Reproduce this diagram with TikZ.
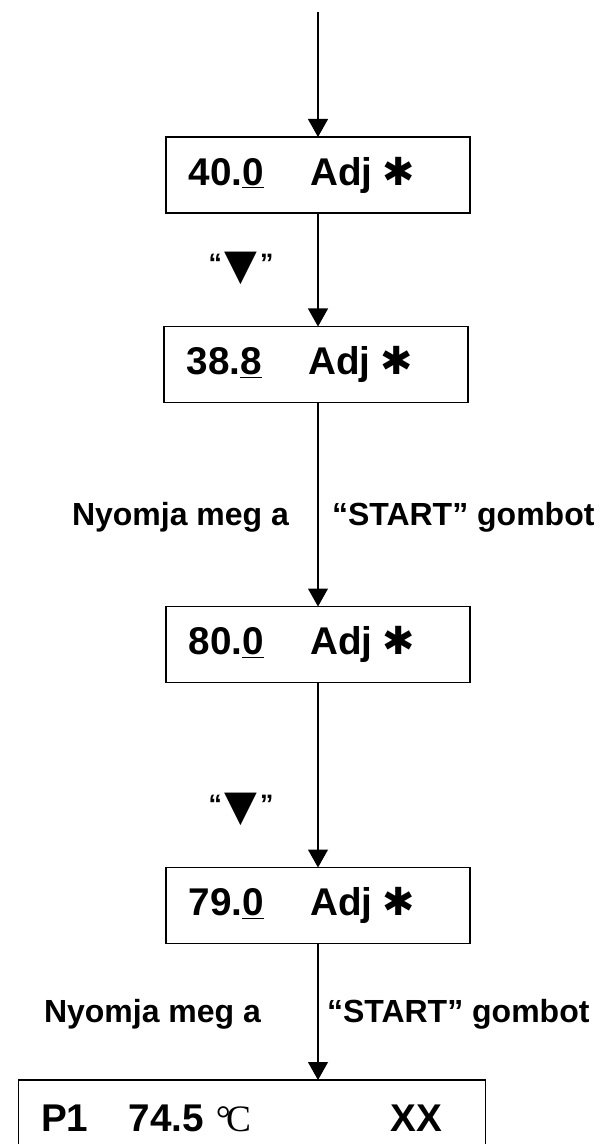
\documentclass[tikz,border=0pt]{standalone}
\usepackage{fontspec}
\setmainfont{Liberation Sans}
\newfontfamily\symfont{DejaVu Sans}
\newfontfamily\degfont{Liberation Serif}
\usetikzlibrary{arrows.meta}

\begin{document}
\begin{tikzpicture}[x=0.75pt, y=-0.75pt, line width=0.8pt,
  every node/.style={outer sep=0pt},
  lcd/.style={draw, minimum height=57pt, inner xsep=17pt, inner ysep=0pt, text width=194pt, align=left, font=\fontsize{29pt}{34pt}\selectfont\bfseries},
  hint/.style={inner sep=0pt, font=\fontsize{24pt}{28pt}\selectfont\bfseries},
  flow/.style={-{Triangle[width=15pt,length=13.5pt]}}]
\useasboundingbox (0,0) rectangle (614,1144);

\node[lcd] (b1) at (318,175) {40.\underline{0}\hspace{1.2em}Adj\hspace{0.25em}{\symfont\bfseries\fontsize{29pt}{29pt}\selectfont ✱}};
\node[lcd] (b2) at (316,364.5) {38.\underline{8}\hspace{1.2em}Adj\hspace{0.25em}{\symfont\bfseries\fontsize{29pt}{29pt}\selectfont ✱}};
\node[lcd] (b3) at (318,644.5) {80.\underline{0}\hspace{1.2em}Adj\hspace{0.25em}{\symfont\bfseries\fontsize{29pt}{29pt}\selectfont ✱}};
\node[lcd] (b4) at (318,905.5) {79.\underline{0}\hspace{1.2em}Adj\hspace{0.25em}{\symfont\bfseries\fontsize{29pt}{29pt}\selectfont ✱}};
\node[lcd, text width=316.5pt] (b5) at (252,1118) {P1\hspace{1.05em}74.5\hspace{0.3em}{\degfont\mdseries\fontsize{28pt}{30pt}\selectfont °\kern-0.12em C}\hspace{3.6em}XX};

\node[hint] (d1) at (241,268) {\raisebox{5pt}{\fontsize{20pt}{20pt}\selectfont “}\hspace{2pt}{\symfont\fontsize{32pt}{32pt}\selectfont ▼}\hspace{2pt}\raisebox{5pt}{\fontsize{20pt}{20pt}\selectfont ”}};
\node[hint] (d2) at (241,809) {\raisebox{5pt}{\fontsize{20pt}{20pt}\selectfont “}\hspace{2pt}{\symfont\fontsize{32pt}{32pt}\selectfont ▼}\hspace{2pt}\raisebox{5pt}{\fontsize{20pt}{20pt}\selectfont ”}};

\node[hint, anchor=base east] (p1) at (289,525) {Nyomja meg a};
\node[hint, anchor=base west] (s1) at (332,525) {“START” gombot};
\node[hint, anchor=base east] (p2) at (261,1022) {Nyomja meg a};
\node[hint, anchor=base west] (s2) at (327,1022) {“START” gombot};

\coordinate (top) at (318,12);
\draw[flow] (top) -- (b1.north);
\draw[flow] (b1.south) -- (b1.south |- b2.north);
\draw[flow] (b1.south |- b2.south) -- (b3.north);
\draw[flow] (b3.south) -- (b4.north);
\draw[flow] (b4.south) -- (b4.south |- b5.north);
\end{tikzpicture}
\end{document}
